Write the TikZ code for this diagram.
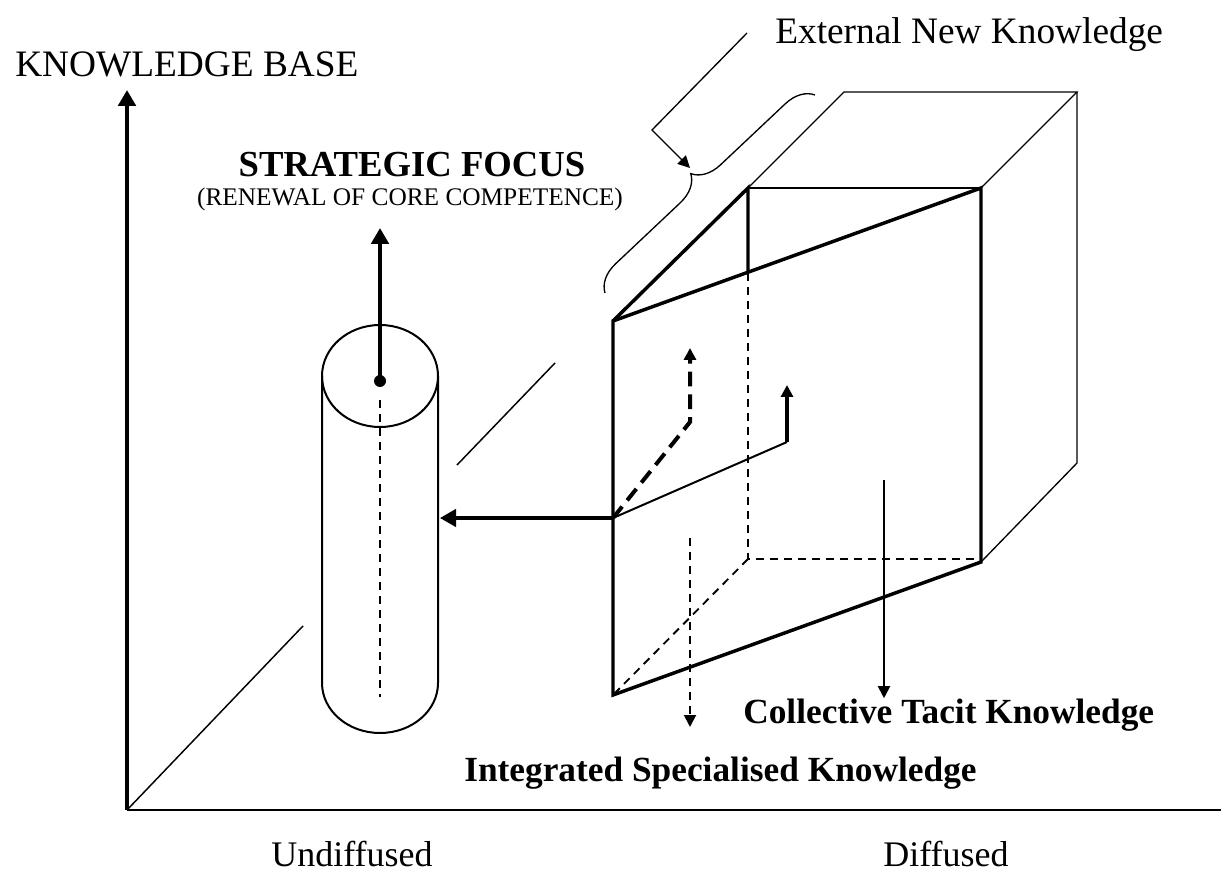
\documentclass[tikz,border=0pt]{standalone}
\usepackage{fontspec}
\setmainfont{Liberation Serif}
\usetikzlibrary{arrows.meta,decorations.pathreplacing}

\tikzset{
  axisline/.style={line width=3pt},
  baseline/.style={line width=2pt},
  guide/.style={line width=1.1pt},
  cylline/.style={line width=1.5pt},
  heavy/.style={line width=2.6pt},
  medium/.style={line width=1.5pt},
  light/.style={line width=1pt},
  hidden/.style={line width=1.4pt, dash pattern=on 6pt off 4.5pt},
  boldhidden/.style={line width=3pt, dash pattern=on 11pt off 6pt},
  bigtip/.style={-{Triangle[length=12pt,width=13pt]}},
  smalltip/.style={-{Triangle[length=9pt,width=9pt]}},
  plainlbl/.style={inner sep=0pt, font=\fontsize{28}{33}\selectfont},
  boldlbl/.style={inner sep=0pt, font=\fontsize{26.5}{32}\selectfont\bfseries},
  smalllbl/.style={inner sep=0pt, font=\fontsize{19}{23}\selectfont}
}

\begin{document}
\begin{tikzpicture}[x=0.75pt,y=0.75pt,yscale=-1,xscale=1]
\useasboundingbox (0,0) rectangle (1221,880);

%Points [axes]
\coordinate (O) at (127,810);
\coordinate (Ytip) at (127,90);
\coordinate (Xend) at (1221,810);
\coordinate (D1) at (303,626);
\coordinate (D2) at (457,465);
\coordinate (D3) at (555,363);
%Points [cylinder]
\coordinate (cylC) at (380,376);
\coordinate (cylL) at (322,376);
\coordinate (cylLb) at (322,683);
\coordinate (cylR) at (438,376);
\coordinate (dot) at (380,381);
\coordinate (sfTip) at (380,228);
\coordinate (axTop) at (380,400);
\coordinate (axBot) at (380,697);
\coordinate (cylHit) at (440,518);
%Points [box]
\coordinate (P1) at (613,321);
\coordinate (P2) at (613,695);
\coordinate (P4) at (981,188);
\coordinate (P5) at (981,562);
\coordinate (ftl) at (748,188);
\coordinate (cut) at (748,273);
\coordinate (fbl) at (748,559);
\coordinate (fbr) at (981,559);
\coordinate (btl) at (844,92);
\coordinate (btr) at (1077,92);
\coordinate (bbr) at (1077,463);
\coordinate (J) at (613,518);
\coordinate (K) at (787,442);
\coordinate (Ktip) at (787,385);
\coordinate (bend) at (690,422);
\coordinate (bendTip) at (690,348);
\coordinate (iskTop) at (690,538);
\coordinate (iskTip) at (690,727);
\coordinate (ctkTop) at (884,480);
\coordinate (extStart) at (747,33);
\coordinate (extKnee) at (652,130);
\coordinate (extTip) at (690,168);
\coordinate (brLow) at (605,293);
\coordinate (brHigh) at (815,95);

% Text Node
\node [plainlbl, anchor=base west] (kb) at (15,77) {KNOWLEDGE BASE};
% Text Node
\node [boldlbl, font=\fontsize{27.5}{33}\selectfont\bfseries, anchor=base] (sf) at (412,177) {STRATEGIC FOCUS};
% Text Node
\node [smalllbl, anchor=base] (rcc) at (410,206) {(RENEWAL OF CORE COMPETENCE)};
% Text Node
\node [plainlbl, anchor=base west] (ext) at (775,44) {External New Knowledge};
% Text Node
\node [boldlbl, anchor=base west] (ctk) at (743,723) {Collective Tacit Knowledge};
% Text Node
\node [boldlbl, anchor=base west] (isk) at (464,781) {Integrated Specialised Knowledge};
% Text Node
\node [plainlbl, font=\fontsize{27}{32}\selectfont, anchor=base west] (und) at (271,866) {Undiffused};
% Text Node
\node [plainlbl, font=\fontsize{27}{32}\selectfont, anchor=base west] (dif) at (883,866) {Diffused};

%Straight Lines [axes]
\draw [axisline, bigtip] (O) -- (Ytip);
\draw [baseline] (O) -- (Xend);
\draw [guide] (O) -- (D1);
\draw [guide] (D2) -- (D3);

%Shape: Cylinder
\draw [cylline] (cylC) ellipse [x radius=58, y radius=51];
\draw [cylline] (cylL) -- (cylLb) arc [start angle=180, end angle=0, x radius=58, y radius=50] -- (cylR);
\fill (dot) circle [radius=6];
\draw [heavy, line width=3pt, bigtip] (dot) -- (sfTip);
\draw [hidden] (axTop) -- (axBot);

%Shape: Box
\draw [heavy, line join=miter] (P1) -- (P4) -- (P5) -- (P2) -- cycle;
\draw [heavy] (P1) -- (ftl) -- (cut);
\draw [medium] (ftl) -- (P4);
\draw [light] (ftl) -- (btl) -- (btr) -- (P4);
\draw [light] (btr) -- (bbr) -- (P5);
\draw [hidden] (cut) -- (fbl) -- (fbr);
\draw [hidden] (fbl) -- (P2);

%Straight Lines [inside]
\draw [heavy, bigtip] (J) -- (cylHit);
\draw [medium] (J) -- (K);
\draw [heavy, smalltip] (K) -- (Ktip);
\draw [boldhidden, smalltip] (J) -- (bend) -- (bendTip);
\draw [hidden, smalltip] (iskTop) -- (iskTip);
\draw [medium, smalltip] (ctkTop) -- (ctkTop |- ctk.north);

%Brace and pointer
\draw [light, decorate, decoration={brace, amplitude=21pt}] (brLow) -- (brHigh);
\draw [light, smalltip] (extStart) -- (extKnee) -- (extTip);

\end{tikzpicture}
\end{document}
